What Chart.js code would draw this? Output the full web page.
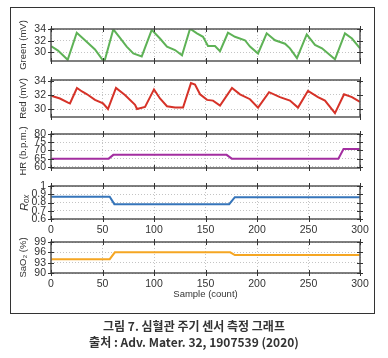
<!DOCTYPE html>
<html>
<head>
<meta charset="utf-8">
<script src="https://cdn.jsdelivr.net/npm/chart.js@4"></script>
<style>
  body { margin: 0; background: #fff; width: 388px; height: 358px; position: relative; overflow: hidden; }
  .box { position: absolute; left: 10px; top: 7px; width: 363px; height: 305px; border: 1px solid #333; }
  canvas { position: absolute; left: 0; }
  .cap { position: absolute; left: 0; width: 388px; text-align: center; font-family: "Noto Sans CJK KR", sans-serif;
         font-weight: bold; font-size: 12px; line-height: 16px; color: #333; }
</style>
</head>
<body>
<div class="box"></div>
<canvas id="green"></canvas>
<canvas id="red"></canvas>
<canvas id="hr"></canvas>
<canvas id="rox"></canvas>
<canvas id="sao2"></canvas>
<div class="cap" style="top:318px">그림 7. 심혈관 주기 센서 측정 그래프</div>
<div class="cap" style="top:334px">출처 : Adv. Mater. 32, 1907539 (2020)</div>

<script>
// x axis (sample count)
const sampleTicks = [0, 50, 100, 150, 200, 250, 300];

// Green channel (mV)
const greenSample = [0, 6.8, 16.2, 25, 33, 42.7, 51.7, 60.5, 67, 73.5, 79.9, 88.1, 97.8, 105.8, 112.6, 120.4, 127.2, 135, 141.7, 147.6,
  152.4, 159.2, 164.1, 171.8, 178.6, 188.3, 193.2, 201, 209.4, 217.5, 227.2, 232, 238.8, 248.3, 256.3, 263.1, 275.7, 285.4, 292.2, 300];
const greenMv = [31.1, 30.3, 28.7, 33.4, 32.1, 30.5, 28.3, 34, 32.5, 31, 29.8, 29.3, 33.9, 32.4, 31, 30.4, 29.5, 34.1, 33.3, 32.7,
  31.1, 31.1, 30.2, 33.4, 32.7, 32.1, 31, 29.8, 33.3, 32.1, 31.5, 30.7, 29, 33.1, 31.3, 30.7, 28.8, 33.3, 32.4, 30.7];
const greenTicks = [30, 32, 34];

// Red channel (mV)
const redSample = [0, 8.7, 16.5, 18.4, 25.2, 30.1, 35, 42.7, 50.5, 55.3, 63.1, 71.8, 81.6, 83.5, 91.3, 100, 105.8, 112.6, 120.4, 128.2,
  135.9, 139.8, 144.7, 151.5, 157.3, 164.1, 175.7, 183.5, 193.2, 201, 211.7, 222.3, 232, 239.8, 249.5, 259.2, 266, 275.7, 284.5, 292.2, 300];
const redMv = [31.9, 31.5, 30.9, 30.8, 33, 32.5, 32.1, 31.3, 30.8, 30, 33, 32, 30.6, 30, 30.3, 32.8, 31.5, 30.4, 30.2, 30.2,
  33.7, 33.5, 32.1, 31.3, 31.2, 30.5, 33, 32.1, 31.4, 30.2, 32.4, 31.7, 31.2, 30.2, 32.6, 31.7, 31.2, 29.4, 32.1, 31.7, 31];
const redTicks = [30, 32, 34];

// Heart rate (b.p.m.)
const hrSample = [0, 56, 60.5, 170.5, 175.5, 279, 284, 300];
const hrBpm = [65, 65, 67.3, 67.3, 65, 65, 70.8, 70.8];
const hrTicks = [60, 65, 70, 75, 80];

// R_ox
const roxSample = [0, 57, 61.5, 173, 178.5, 300];
const roxValue = [0.87, 0.87, 0.78, 0.78, 0.865, 0.865];
const roxTicks = [0.6, 0.7, 0.8, 0.9, 1];

// SaO2 (%)
const saoSample = [0, 57, 62, 174, 178.5, 300];
const saoPct = [94, 94, 96, 96, 95.2, 95.2];
const saoTicks = [90, 93, 96, 99];

const textColor = '#333';
const tickFont = { family: '"Liberation Sans", "DejaVu Sans", sans-serif', size: 10.5 };
const titleFont = { family: '"Liberation Sans", "DejaVu Sans", sans-serif', size: 9.5 };
const padTop = 16; // room above each plot for the rotated titles

function points(xs, ys) {
  return xs.map((x, i) => ({ x: x, y: ys[i] }));
}

// box around each plot + tick marks crossing the box
const frame = {
  id: 'frame',
  afterDraw(chart) {
    const { ctx, chartArea: a, scales } = chart;
    ctx.save();
    ctx.strokeStyle = '#555';
    ctx.lineWidth = 1.5;
    ctx.strokeRect(a.left, a.top, a.right - a.left, a.bottom - a.top);
    ctx.lineWidth = 1;
    ctx.strokeStyle = '#333';
    ctx.beginPath();
    scales.x.ticks.forEach(t => {
      const px = Math.round(scales.x.getPixelForValue(t.value)) + 0.5;
      ctx.moveTo(px, a.top - 3); ctx.lineTo(px, a.top + 3);
      ctx.moveTo(px, a.bottom - 3); ctx.lineTo(px, a.bottom + 3);
    });
    scales.y.ticks.forEach(t => {
      const py = Math.round(scales.y.getPixelForValue(t.value)) + 0.5;
      ctx.moveTo(a.left - 3, py); ctx.lineTo(a.left + 3, py);
      ctx.moveTo(a.right - 3, py); ctx.lineTo(a.right + 3, py);
    });
    ctx.stroke();
    ctx.restore();
  }
};

function makePanel(id, p) {
  const el = document.getElementById(id);
  el.width = 388;
  el.height = padTop + (p.bottom - p.top) + p.xh;
  el.style.top = (p.top - padTop) + 'px';

  new Chart(el, {
    type: 'line',
    data: {
      datasets: [{
        data: points(p.xs, p.ys),
        borderColor: p.color,
        borderWidth: 2,
        pointRadius: 0,
        tension: 0,
        fill: false
      }]
    },
    options: {
      responsive: false,
      animation: false,
      events: [],
      layout: { padding: { top: padTop, right: 28, left: 0, bottom: 0 } },
      plugins: { legend: { display: false }, tooltip: { enabled: false } },
      scales: {
        x: {
          type: 'linear',
          min: 0,
          max: 300,
          afterBuildTicks: s => { s.ticks = sampleTicks.map(v => ({ value: v })); },
          afterFit: s => { s.height = p.xh; },
          ticks: { display: p.showX, padding: 4.5, font: tickFont, color: textColor, maxRotation: 0, autoSkip: false },
          grid: { color: '#c4c4c4', drawTicks: false },
          border: { display: false, dash: [1, 2] },
          title: {
            display: !!p.xTitle,
            text: p.xTitle || '',
            font: titleFont,
            color: textColor,
            padding: 0
          }
        },
        y: {
          min: p.min,
          max: p.max,
          afterBuildTicks: s => { s.ticks = p.ticks.map(v => ({ value: v })); },
          afterFit: s => { s.width = 51; },
          ticks: { padding: 5, font: tickFont, color: textColor, autoSkip: false, callback: v => String(v) },
          grid: { color: '#c4c4c4', drawTicks: false },
          border: { display: false, dash: [1, 2] },
          title: {
            display: true,
            text: p.yTitle,
            font: Object.assign({}, titleFont, p.titleStyle || {}),
            color: textColor,
            padding: { top: 18, bottom: 0 }
          }
        }
      }
    },
    plugins: [frame]
  });
}

makePanel('green', { top: 29, bottom: 61, xh: 16, xs: greenSample, ys: greenMv, color: 'rgb(94,178,86)',
  min: 28.5, max: 34.05, ticks: greenTicks, yTitle: 'Green (mV)', showX: false });
makePanel('red', { top: 80, bottom: 117, xh: 16, xs: redSample, ys: redMv, color: 'rgb(214,50,40)',
  min: 28.86, max: 34.14, ticks: redTicks, yTitle: 'Red (mV)', showX: false });
makePanel('hr', { top: 134, bottom: 168, xh: 16, xs: hrSample, ys: hrBpm, color: 'rgb(163,46,160)',
  min: 59.3, max: 80, ticks: hrTicks, yTitle: 'HR (b.p.m.)', showX: false });
makePanel('rox', { top: 186, bottom: 219, xh: 18, xs: roxSample, ys: roxValue, color: 'rgb(54,117,186)',
  min: 0.6, max: 1, ticks: roxTicks, yTitle: 'Rₒₓ', titleStyle: { style: 'italic', size: 11 }, showX: true });
makePanel('sao2', { top: 242, bottom: 273, xh: 27, xs: saoSample, ys: saoPct, color: 'rgb(245,166,35)',
  min: 90, max: 99, ticks: saoTicks, yTitle: 'SaO₂ (%)', showX: true, xTitle: 'Sample (count)' });
</script>
</body>
</html>
